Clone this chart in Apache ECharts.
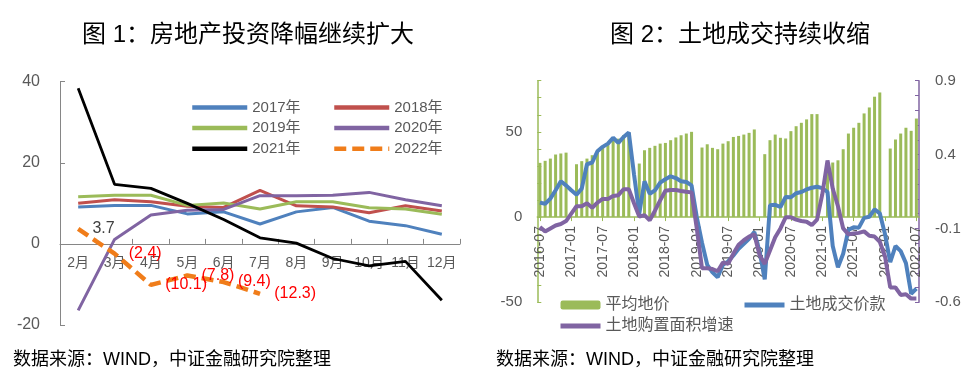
<!DOCTYPE html>
<html><head><meta charset="utf-8">
<script src="https://cdn.jsdelivr.net/npm/echarts@6/dist/echarts.min.js"></script>
<style>html,body{margin:0;padding:0;background:#fff}#c{width:964px;height:371px}</style>
</head><body><div id="c"></div>
<script>
// ---------- Figure 1 data ----------
const months = ['2月','3月','4月','5月','6月','7月','8月','9月','10月','11月','12月'];
const y2017 = [9.1, 9.5, 9.5, 7.4, 7.9, 4.9, 7.9, 9.0, 5.6, 4.5, 2.4];
const y2018 = [10.0, 10.9, 10.4, 9.3, 9.0, 13.2, 9.4, 9.1, 7.7, 9.4, 8.1];
const y2019 = [11.6, 12.0, 12.0, 9.5, 10.1, 8.6, 10.4, 10.4, 8.9, 8.6, 7.3];
const y2020 = [-16.4, 1.1, 7.1, 8.3, 8.5, 11.9, 11.9, 12.0, 12.7, 10.9, 9.4];
const y2021 = [38.4, 14.7, 13.7, 10.0, 6.0, 1.5, 0.2, -3.6, -5.4, -4.3, -13.9];
const y2022 = [3.7, -2.4, -10.1, -7.8, -9.4, -12.3];
const fig1YTicks = [-20, 0, 20, 40];

// ---------- Figure 2 data ----------
const startYear = 2016, startMonth = 7, monthCount = 73;
const landMonths = [];
for (let k = 0; k < monthCount; k++) {
  const m = startMonth - 1 + k;
  const yy = startYear + Math.floor(m / 12), mm = (m % 12) + 1;
  landMonths.push(yy + '-' + (mm < 10 ? '0' + mm : mm));
}
const avgLandPrice = [31.8,33,34.3,36.7,37.3,37.8,null,31,32.8,34.3,36.3,38.4,41,43,45,46,48,49.6,
  null,31.4,39.2,40.6,41.8,43.1,43.5,45.1,46.7,48,49,50,
  null,40.8,42.7,40.6,39.8,43.1,44.5,47,47.6,48.4,49.4,51.4,
  null,36.9,45.1,48.4,46.5,46.1,50.4,53.3,55.3,57.3,60.4,60.4,
  null,31,32,33.3,39.8,49,52.4,55.3,60.8,64.3,70.6,73.1,
  null,40.2,45.5,49,52.4,50.6,57.8];
const landDealValue = [8.5,7.8,10.8,15.7,21,18.6,15.7,13.1,16.7,31,32,38.6,41.2,43.1,46.5,43.5,47,49.6,
  25,2,21,13.7,15.7,20.2,22.2,23.9,22.9,21,20.6,18.6,
  0,-15,-28,-32.4,-35.3,-28,-26,-22.5,-18.6,-15.7,-12.7,-8.8,
  -20,-36.5,6.9,7.2,5.9,11.8,11.6,14,14.7,16.2,17.2,17.8,
  17,14.7,-17,-29.4,-21.5,-7.5,-6,-6.2,-0.5,0.2,4.5,2.2,
  -10,-26.5,-17,-20,-27,-45,-42];
const landAreaGrowth = [-0.09,-0.12,-0.10,-0.08,-0.07,-0.05,0.00,0.05,0.05,0.07,0.04,0.075,0.10,0.10,0.12,0.125,0.165,0.165,
  0.07,-0.02,-0.01,-0.045,0.02,0.09,0.155,0.16,0.16,0.153,0.148,0.144,
  -0.10,-0.37,-0.37,-0.375,-0.39,-0.33,-0.34,-0.27,-0.21,-0.18,-0.155,-0.14,
  -0.28,-0.34,-0.25,-0.16,-0.10,-0.025,-0.025,-0.04,-0.05,-0.055,-0.077,-0.04,
  0.13,0.36,0.17,0.05,-0.10,-0.14,-0.135,-0.13,-0.12,-0.15,-0.155,-0.19,
  -0.29,-0.50,-0.50,-0.55,-0.545,-0.575,-0.575];
const fig2LeftTicks = [-50, 0, 50];
const fig2RightTicks = [-0.6, -0.1, 0.4, 0.9];

// ---------- styles / layout ----------
const FONT = "'Liberation Sans','Noto Sans CJK SC',sans-serif";
const GRAY = '#595959';
const C = {b:'#4F81BD', r:'#C0504D', g:'#9BBB59', p:'#8064A2', k:'#000000', o:'#F07D1A'};
const H = 371;
const grid1 = {left:60, right:504, top:81.7, bottom:46};
const grid2 = {left:537.3, right:45, top:80.7, bottom:68.7};
const y1 = {min:-20, max:40};
const y2 = {min:-50, max:80};
// place category axes at the zero line of their value axis (labels follow)
const off1 = -(H - grid1.top - grid1.bottom) * (0 - y1.min) / (y1.max - y1.min);
const off2 = -(H - grid2.top - grid2.bottom) * (0 - y2.min) / (y2.max - y2.min);

function lineS(name, data, color, extra) {
  return Object.assign({
    name, type:'line', data, xAxisIndex:0, yAxisIndex:0, symbol:'none',
    lineStyle:{color, width:3}, itemStyle:{color}, z:3
  }, extra || {});
}

const labelColors2022 = ['#404040','#FF0000','#FF0000','#FF0000','#FF0000','#FF0000'];
const data2022 = y2022.map((v, i) => ({
  value: v,
  label: {show:true, position:'right', distance:14, color: labelColors2022[i], fontSize:16, fontFamily: FONT,
    formatter: p => (p.value < 0 ? '(' + Math.abs(p.value).toFixed(1) + ')' : p.value.toFixed(1))}
}));

const chart = echarts.init(document.getElementById('c'), null, {renderer:'canvas'});
chart.setOption({
  animation:false,
  textStyle:{fontFamily:FONT},
  title:[
    {text:'图 1：房地产投资降幅继续扩大', left:243, top:18, textAlign:'center',
      textStyle:{fontSize:24, fontWeight:'normal', color:'#000', fontFamily:FONT}},
    {text:'图 2：土地成交持续收缩', left:735, top:18, textAlign:'center',
      textStyle:{fontSize:24, fontWeight:'normal', color:'#000', fontFamily:FONT}},
    {text:'数据来源：WIND，中证金融研究院整理', left:8, top:346,
      textStyle:{fontSize:18, fontWeight:'normal', color:'#000', fontFamily:FONT}},
    {text:'数据来源：WIND，中证金融研究院整理', left:491, top:346,
      textStyle:{fontSize:18, fontWeight:'normal', color:'#000', fontFamily:FONT}}
  ],
  legend:[
    {data:['2017年','2019年','2021年'], orient:'vertical', left:185, top:95, itemWidth:55, itemHeight:14, itemGap:5.6,
      itemStyle:{opacity:0}, lineStyle:{width:4.5}, textStyle:{color:GRAY, fontSize:15}},
    {data:['2018年','2020年','2022年'], orient:'vertical', left:327, top:95, itemWidth:55, itemHeight:14, itemGap:5.6,
      itemStyle:{opacity:0}, lineStyle:{width:4.5}, textStyle:{color:GRAY, fontSize:15}},
    {data:[{name:'平均地价', itemStyle:{opacity:1}}, '土地购置面积增速'], orient:'vertical', left:553, top:292,
      itemWidth:40, itemHeight:9, itemGap:5, itemStyle:{opacity:0}, lineStyle:{width:5},
      textStyle:{color:GRAY, fontSize:16}},
    {data:['土地成交价款'], orient:'vertical', left:737, top:292, itemWidth:40, itemHeight:9, itemGap:5,
      itemStyle:{opacity:0}, lineStyle:{width:5}, textStyle:{color:GRAY, fontSize:16}}
  ],
  grid:[grid1, grid2],
  xAxis:[
    {type:'category', gridIndex:0, data:months, boundaryGap:true, position:'bottom', offset:off1,
      axisLine:{onZero:false, lineStyle:{color:'#868686', width:1}},
      axisTick:{show:true, inside:true, length:5, lineStyle:{color:'#868686'}},
      axisLabel:{color:GRAY, fontSize:14, margin:12, interval:0}},
    {type:'category', gridIndex:1, data:landMonths, boundaryGap:true, position:'bottom', offset:off2,
      axisLine:{onZero:false, lineStyle:{color:C.g, width:1.5}},
      axisTick:{show:true, interval:5, alignWithLabel:true, length:4, lineStyle:{color:C.g}},
      axisLabel:{color:GRAY, fontSize:14, margin:9, interval:5, rotate:90}}
  ],
  yAxis:[
    {type:'value', gridIndex:0, min:y1.min, max:y1.max, interval:20,
      axisLine:{show:true, lineStyle:{color:'#868686'}},
      axisTick:{show:true, inside:true, length:5, lineStyle:{color:'#868686'}},
      splitLine:{show:false},
      axisLabel:{color:GRAY, fontSize:16, margin:20,
        formatter: v => fig1YTicks.includes(v) ? String(v) : ''}},
    {type:'value', gridIndex:1, min:y2.min, max:y2.max, interval:10,
      axisLine:{show:true, lineStyle:{color:C.g, width:1.5}},
      axisTick:{show:true, inside:true, length:4, lineStyle:{color:C.g}},
      splitLine:{show:false},
      axisLabel:{color:GRAY, fontSize:15, margin:15,
        formatter: v => fig2LeftTicks.includes(v) ? String(v) : ''}},
    {type:'value', gridIndex:1, position:'right', min:-0.6, max:0.9, interval:0.1,
      axisLine:{show:true, lineStyle:{color:C.p, width:1.5}},
      axisTick:{show:true, inside:true, length:4, lineStyle:{color:C.p}},
      splitLine:{show:false},
      axisLabel:{color:GRAY, fontSize:15, margin:16,
        formatter: v => { const r = Math.round(v*10)/10; return fig2RightTicks.some(t => Math.abs(t - r) < 1e-6) ? r.toFixed(1) : ''; }}}
  ],
  series:[
    lineS('2017年', y2017, C.b),
    lineS('2018年', y2018, C.r),
    lineS('2019年', y2019, C.g),
    lineS('2020年', y2020, C.p),
    lineS('2021年', y2021, C.k, {lineStyle:{color:C.k, width:2.8}}),
    lineS('2022年', data2022, C.o, {symbol:'circle', symbolSize:0.5, showSymbol:true,
      lineStyle:{color:C.o, width:4.5, type:[12,6], cap:'butt'}, z:4}),
    {name:'平均地价', type:'bar', xAxisIndex:1, yAxisIndex:1, data:avgLandPrice, barWidth:3,
      itemStyle:{color:C.g}, z:2},
    {name:'土地成交价款', type:'line', xAxisIndex:1, yAxisIndex:1, data:landDealValue, symbol:'none',
      lineStyle:{color:C.b, width:4}, itemStyle:{color:C.b}, z:3},
    {name:'土地购置面积增速', type:'line', xAxisIndex:1, yAxisIndex:2, data:landAreaGrowth, symbol:'none',
      lineStyle:{color:C.p, width:4}, itemStyle:{color:C.p}, z:4}
  ]
});
</script></body></html>
